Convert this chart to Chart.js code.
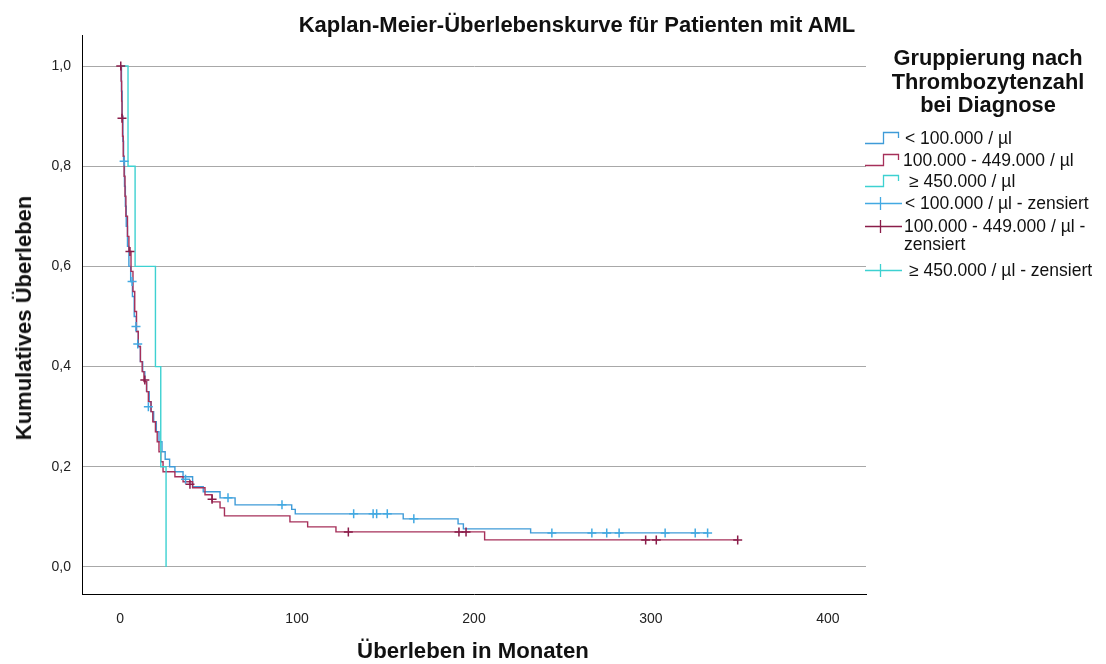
<!DOCTYPE html>
<html>
<head>
<meta charset="utf-8">
<script src="https://cdn.jsdelivr.net/npm/chart.js@4.4.1/dist/chart.umd.min.js"></script>
<style>
  html, body { margin: 0; padding: 0; background: #fff; }
  #wrap { position: relative; width: 1106px; height: 664px; font-family: "Liberation Sans", Arial, sans-serif; color: #111; }
  #c { position: absolute; left: 0; top: 0; }
  .t { position: absolute; white-space: nowrap; }
  .title { font-weight: bold; font-size: 22px; left: 577px; top: 25px; transform: translate(-50%, -50%); }
  .ytitle { font-weight: bold; font-size: 22px; left: 24px; top: 318px; transform: translate(-50%, -50%) rotate(-90deg); }
  .xtitle { font-weight: bold; font-size: 22.2px; left: 473px; top: 651px; transform: translate(-50%, -50%); }
  .ltitle { font-weight: bold; font-size: 21.8px; left: 988px; top: 46px; transform: translateX(-50%); text-align: center; line-height: 23.5px; }
  .li { font-size: 17.5px; transform: translateY(-50%); line-height: 18px; }
  svg.ic { position: absolute; }
</style>
</head>
<body>
<div id="wrap">
  <canvas id="c" width="1106" height="664"></canvas>
  <div class="t title">Kaplan-Meier-Überlebenskurve für Patienten mit AML</div>
  <div class="t ytitle">Kumulatives Überleben</div>
  <div class="t xtitle">Überleben in Monaten</div>
  <div class="t ltitle">Gruppierung nach<br>Thrombozytenzahl<br>bei Diagnose</div>
  <div id="legend"></div>
</div>
<script>
// ---- Data (months, cumulative survival) ----
// Group < 100.000 / µl
const lowEventTimes = [0.8, 1.2, 1.6, 2.0, 2.5, 3.0, 3.5, 4.2, 5.0, 6.0, 7.0, 8.0, 9.2, 10.3, 11.5, 12.8, 14, 15, 16.5, 17.5, 19, 20.5, 22, 23.7, 25.5, 28, 31, 35.6, 41, 47, 56.5, 65, 97, 99, 160, 191, 194, 232];
const lowEventSurv  = [0.95, 0.90, 0.85, 0.81, 0.76, 0.72, 0.68, 0.64, 0.60, 0.57, 0.54, 0.50, 0.47, 0.44, 0.41, 0.39, 0.37, 0.35, 0.33, 0.31, 0.29, 0.27, 0.25, 0.23, 0.215, 0.20, 0.19, 0.18, 0.16, 0.15, 0.138, 0.124, 0.115, 0.106, 0.096, 0.086, 0.076, 0.068];
const lowCensorTimes = [2.3, 6.8, 9, 10, 16, 37, 61, 91.5, 132, 143, 145, 151, 166, 244, 266.6, 275, 282, 308, 325, 332];
const lowCensorSurv  = [0.81, 0.57, 0.48, 0.445, 0.32, 0.175, 0.138, 0.124, 0.106, 0.106, 0.106, 0.106, 0.096, 0.068, 0.068, 0.068, 0.068, 0.068, 0.068, 0.068];

// Group 100.000 - 449.000 / µl
const midEventTimes = [0.6, 0.9, 1.1, 1.4, 1.8, 2.3, 2.8, 3.3, 4.2, 5.0, 6.2, 7.3, 8.3, 9.3, 10.3, 11.5, 12.5, 13.5, 15, 16, 17.5, 18.5, 20, 21, 22, 23, 24.3, 31, 35.6, 41, 48, 52, 56.5, 59, 96, 106, 122, 206];
const midEventSurv  = [0.97, 0.93, 0.90, 0.86, 0.82, 0.78, 0.74, 0.70, 0.66, 0.63, 0.59, 0.55, 0.51, 0.47, 0.44, 0.41, 0.39, 0.37, 0.35, 0.33, 0.31, 0.29, 0.27, 0.25, 0.23, 0.21, 0.19, 0.18, 0.17, 0.158, 0.144, 0.13, 0.118, 0.102, 0.09, 0.08, 0.07, 0.054];
const midCensorTimes = [0.4, 1.1, 5.6, 14, 39.5, 52, 129, 191.5, 195.5, 297, 303, 349];
const midCensorSurv  = [1.0, 0.896, 0.63, 0.373, 0.165, 0.135, 0.07, 0.07, 0.07, 0.054, 0.054, 0.054];

// Group >= 450.000 / µl
const highEventTimes = [4.5, 8.5, 20, 23, 26];
const highEventSurv  = [0.8, 0.6, 0.4, 0.2, 0.0];

// Axis ticks
const xTicks = [0, 100, 200, 300, 400];
const yTicks = [0, 0.2, 0.4, 0.6, 0.8, 1.0];

// Legend labels
const legendLabels = ['< 100.000 / µl', '100.000 - 449.000 / µl', '≥ 450.000 / µl',
  '< 100.000 / µl - zensiert', '100.000 - 449.000 / µl -<br>zensiert', '≥ 450.000 / µl - zensiert'];

// ---- Styles ----
const colLow = '#3f9bd8', colMid = '#a6305a', colHigh = '#3dd1d1';
const colLowC = '#42a9e2', colMidC = '#8a1d4a', colHighC = '#3dd1d1';

function stepData(times, surv, endTime) {
  const pts = [{x: 0, y: 1}];
  times.forEach((t, i) => pts.push({x: t, y: surv[i]}));
  if (endTime !== undefined && endTime > times[times.length - 1]) pts.push({x: endTime, y: surv[surv.length - 1]});
  return pts;
}
function pointsOf(times, surv) { return times.map((t, i) => ({x: t, y: surv[i]})); }

const lowEnd = Math.max(...lowCensorTimes);
const midEnd = Math.max(...midCensorTimes);

const stepStyle = { stepped: 'before', pointRadius: 0, borderWidth: 1.4, fill: false, tension: 0 };
const crossStyle = { showLine: false, pointStyle: 'cross', pointRadius: 4.5, pointBorderWidth: 1.5, pointHoverRadius: 4.5 };

new Chart(document.getElementById('c'), {
  type: 'line',
  data: {
    datasets: [
      Object.assign({ data: pointsOf(midCensorTimes, midCensorSurv), borderColor: colMidC, backgroundColor: colMidC, pointBorderColor: colMidC }, crossStyle),
      Object.assign({ data: pointsOf(lowCensorTimes, lowCensorSurv), borderColor: colLowC, backgroundColor: colLowC, pointBorderColor: colLowC }, crossStyle),
      Object.assign({ data: stepData(highEventTimes, highEventSurv), borderColor: colHigh }, stepStyle),
      Object.assign({ data: stepData(midEventTimes, midEventSurv, midEnd), borderColor: colMid }, stepStyle),
      Object.assign({ data: stepData(lowEventTimes, lowEventSurv, lowEnd), borderColor: colLow }, stepStyle)
    ]
  },
  options: {
    responsive: false,
    animation: false,
    devicePixelRatio: 1,
    layout: { padding: { top: 35, right: 240, bottom: 0, left: 0 } },
    plugins: { legend: { display: false }, tooltip: { enabled: false }, title: { display: false } },
    scales: {
      x: {
        type: 'linear', min: -21.5, max: 421.5,
        afterBuildTicks: s => { s.ticks = xTicks.map(v => ({ value: v })); },
        afterFit: s => { s.height = 70; },
        grid: { display: false },
        border: { display: true, color: '#000', width: 1 },
        ticks: { color: '#222', font: { family: '"Liberation Sans", Arial, sans-serif', size: 14 }, padding: 9, maxRotation: 0 }
      },
      y: {
        type: 'linear', min: -0.054, max: 1.062,
        afterBuildTicks: s => { s.ticks = yTicks.map(v => ({ value: v })); },
        afterFit: s => { s.width = 82; },
        grid: { color: '#a8a8a8', lineWidth: 1, drawTicks: false },
        border: { display: true, color: '#000', width: 1 },
        ticks: { color: '#222', font: { family: '"Liberation Sans", Arial, sans-serif', size: 14 }, padding: 11,
                 callback: v => v.toFixed(1).replace('.', ',') }
      }
    }
  }
});

// ---- Legend (HTML) ----
const lg = document.getElementById('legend');
const items = [
  { kind: 'step', color: colLow, y: 138, tx: 905 },
  { kind: 'step', color: colMid, y: 160, tx: 903 },
  { kind: 'step', color: colHigh, y: 181, tx: 909 },
  { kind: 'cross', color: colLowC, y: 203, tx: 905 },
  { kind: 'cross', color: colMidC, y: 226, tx: 904, two: true },
  { kind: 'cross', color: colHighC, y: 270, tx: 909 }
];
items.forEach((it, i) => {
  const svg = document.createElementNS('http://www.w3.org/2000/svg', 'svg');
  svg.setAttribute('class', 'ic');
  svg.setAttribute('width', 40); svg.setAttribute('height', 20);
  svg.style.left = '864px'; svg.style.top = (it.y - 10) + 'px';
  const p = document.createElementNS('http://www.w3.org/2000/svg', 'path');
  if (it.kind === 'step') p.setAttribute('d', 'M1 15.5 H19.5 V4.5 H34.5 V10');
  else p.setAttribute('d', 'M1 10.5 H38 M16.5 4 V17');
  p.setAttribute('stroke', it.color); p.setAttribute('stroke-width', 1.3); p.setAttribute('fill', 'none');
  svg.appendChild(p);
  lg.appendChild(svg);
  const d = document.createElement('div');
  d.className = 't li';
  d.style.left = it.tx + 'px';
  d.style.top = (it.two ? it.y + 9 : it.y) + 'px';
  d.innerHTML = legendLabels[i];
  lg.appendChild(d);
});
</script>
</body>
</html>
